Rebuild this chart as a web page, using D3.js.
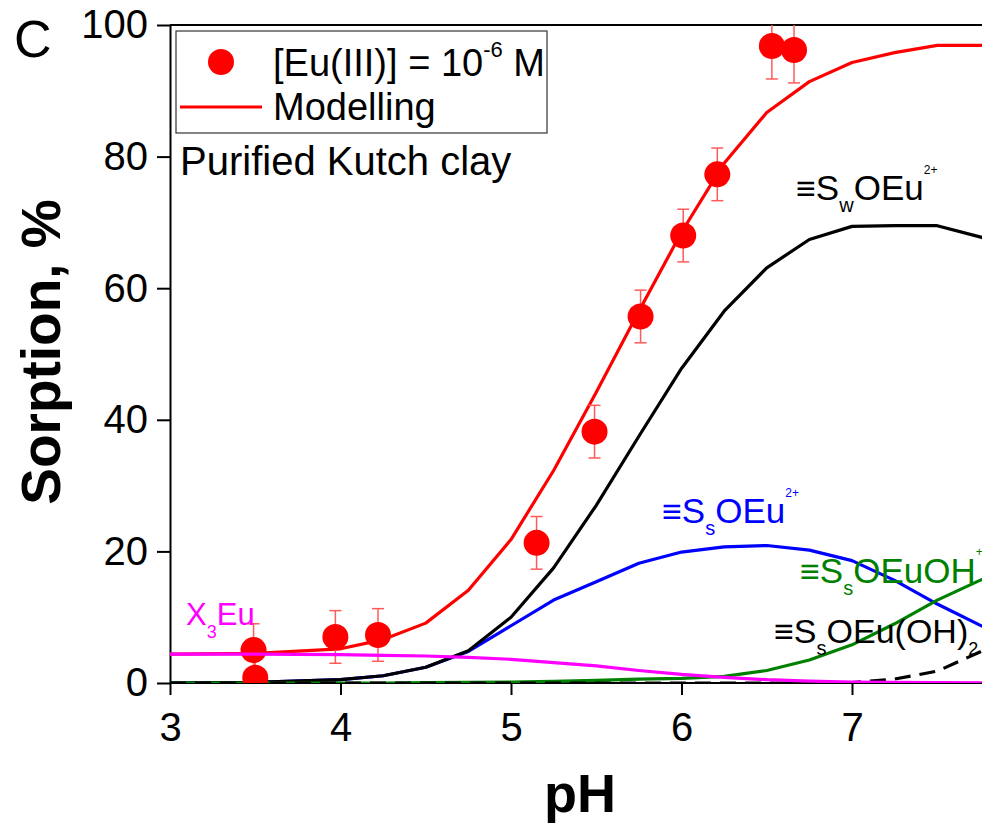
<!DOCTYPE html>
<html>
<head>
<meta charset="utf-8">
<script src="https://cdn.jsdelivr.net/npm/d3@7"></script>
<style>
  html, body { margin: 0; padding: 0; background: #fff; }
  svg { display: block; font-family: Arial, "Liberation Sans", sans-serif; }
</style>
</head>
<body>
<svg id="chart" width="982" height="827"></svg>
<script>
// ---------- data ----------
const pHGrid      = [3, 3.5, 4, 4.25, 4.5, 4.75, 5, 5.25, 5.5, 5.75, 6, 6.25, 6.5, 6.75, 7, 7.25, 7.5, 7.75, 8];
const modelling   = [4.4, 4.5, 5.2, 6.6, 9.1, 14.1, 21.8, 32.3, 44.2, 56.5, 68.5, 79.0, 86.7, 91.4, 94.3, 95.8, 96.9, 96.9, 96.9];
const swOEu       = [0, 0.1, 0.5, 1.1, 2.4, 4.9, 10.0, 17.5, 27.0, 37.5, 47.8, 56.5, 63.1, 67.4, 69.4, 69.5, 69.5, 67.8, 66.0];
const ssOEu       = [0, 0.1, 0.5, 1.1, 2.4, 4.8, 8.7, 12.6, 15.4, 18.2, 19.9, 20.7, 20.9, 20.2, 18.6, 15.6, 12.0, 8.8, 6.0];
const ssOEuOH     = [0, 0, 0, 0, 0.05, 0.1, 0.15, 0.25, 0.4, 0.6, 0.7, 1.0, 1.9, 3.5, 5.8, 9.0, 12.6, 15.6, 18.4];
const ssOEuOH2    = [0, 0, 0, 0, 0, 0, 0, 0, 0, 0, 0, 0, 0, 0, 0.05, 0.6, 1.8, 4.7, 8.5];
const x3Eu        = [4.4, 4.4, 4.3, 4.2, 4.1, 3.9, 3.6, 3.1, 2.6, 1.9, 1.3, 0.85, 0.5, 0.3, 0.15, 0.1, 0.05, 0.02, 0];

const expPH       = [3.49, 3.5, 3.97, 4.22, 5.15, 5.49, 5.76, 6.01, 6.21, 6.53, 6.66];
const expSorption = [5.0, 0.8, 7.0, 7.3, 21.3, 38.2, 55.7, 68.0, 77.3, 96.8, 96.2];
const expError    = [4, 4, 4, 4, 4, 4, 4, 4, 4, 5, 5];

const xMajorTicks = [3, 4, 5, 6, 7];
const yMajorTicks = [0, 20, 40, 60, 80, 100];

// ---------- layout ----------
const svg = d3.select("#chart");
const x = d3.scaleLinear().domain([3, 8]).range([170, 1022.5]);
const y = d3.scaleLinear().domain([0, 100]).range([683, 25]);

svg.append("defs").append("clipPath").attr("id", "plotClip")
  .append("rect").attr("x", 170).attr("y", 25).attr("width", 860).attr("height", 658);

// frame top line
svg.append("line").attr("x1", 170).attr("x2", 1030).attr("y1", y(100)).attr("y2", y(100))
  .attr("stroke", "#000").attr("stroke-width", 2);

// axes
const xMinor = d3.range(3, 8.01, 0.2).map(v => +v.toFixed(1)).filter(v => !xMajorTicks.includes(v));
const yMinor = d3.range(10, 100, 20);

const gx = svg.append("g").attr("transform", `translate(0,${y(0)})`);
gx.call(d3.axisBottom(x).tickValues(xMinor).tickSize(7).tickSizeOuter(0).tickFormat(""));
gx.call(d3.axisBottom(x).tickValues(xMajorTicks).tickSize(12).tickSizeOuter(0).tickPadding(18).tickFormat(d3.format("d")));
gx.selectAll("path").attr("d", `M170,0H1030`);

const gy = svg.append("g").attr("transform", `translate(${x(3)},0)`);
gy.call(d3.axisLeft(y).tickValues(yMinor).tickSize(7).tickSizeOuter(0).tickFormat(""));
gy.call(d3.axisLeft(y).tickValues(yMajorTicks).tickSize(13).tickSizeOuter(0).tickPadding(9).tickFormat(d3.format("d")));

svg.selectAll(".domain").attr("stroke-width", 2);
svg.selectAll(".tick line").attr("stroke-width", 2);
svg.selectAll(".tick text").attr("font-size", 40).attr("font-family", "Arial, 'Liberation Sans', sans-serif").attr("fill", "#000");

// axis titles
svg.append("text").attr("x", 580).attr("y", 812).attr("text-anchor", "middle")
  .attr("font-size", 54).attr("font-weight", "bold").text("pH");
svg.append("text").attr("transform", "translate(60,352) rotate(-90)").attr("text-anchor", "middle")
  .attr("font-size", 55).attr("font-weight", "bold").text("Sorption, %");
svg.append("text").attr("x", 14).attr("y", 57).attr("font-size", 52).text("C");

// ---------- curves ----------
const plot = svg.append("g").attr("clip-path", "url(#plotClip)");
const line = d3.line().x((d, i) => x(pHGrid[i])).y(d => y(d));

function curve(vals, color, dash) {
  plot.append("path").datum(vals).attr("d", line)
    .attr("fill", "none").attr("stroke", color).attr("stroke-width", 3.2)
    .attr("stroke-linejoin", "round")
    .attr("stroke-dasharray", dash || null);
}
curve(modelling, "#ff0000");
curve(ssOEu, "#0000ff");
curve(swOEu, "#000000");
curve(ssOEuOH, "#008000");
curve(ssOEuOH2, "#000000", "16,9");

// error bars
const eb = plot.append("g").attr("stroke", "#ff5a5a").attr("stroke-width", 1.5);
expPH.forEach((p, i) => {
  const cx = x(p), lo = y(expSorption[i] - expError[i]), hi = y(expSorption[i] + expError[i]);
  eb.append("line").attr("x1", cx).attr("x2", cx).attr("y1", lo).attr("y2", hi);
  eb.append("line").attr("x1", cx - 6).attr("x2", cx + 6).attr("y1", lo).attr("y2", lo);
  eb.append("line").attr("x1", cx - 6).attr("x2", cx + 6).attr("y1", hi).attr("y2", hi);
});

// points
plot.selectAll("circle.pt").data(expPH).enter().append("circle")
  .attr("class", "pt").attr("cx", d => x(d)).attr("cy", (d, i) => y(expSorption[i]))
  .attr("r", 13).attr("fill", "#ff0000");

curve(x3Eu, "#ff00ff");

// ---------- legend ----------
svg.append("rect").attr("x", 176).attr("y", 31).attr("width", 371).attr("height", 102)
  .attr("fill", "none").attr("stroke", "#333").attr("stroke-width", 1.2);
svg.append("circle").attr("cx", 221).attr("cy", 62).attr("r", 13).attr("fill", "#ff0000");
svg.append("line").attr("x1", 180).attr("x2", 262).attr("y1", 107).attr("y2", 107)
  .attr("stroke", "#ff0000").attr("stroke-width", 3);
const lt = svg.append("text").attr("x", 273).attr("y", 76).attr("font-size", 38);
lt.append("tspan").text("[Eu(III)] = 10");
lt.append("tspan").attr("font-size", 22).attr("dy", -19).text("-6");
lt.append("tspan").attr("dy", 19).text(" M");
svg.append("text").attr("x", 273).attr("y", 120).attr("font-size", 38).text("Modelling");
svg.append("text").attr("x", 180).attr("y", 175).attr("font-size", 40).text("Purified Kutch clay");

// ---------- species labels ----------
function species(x0, y0, color, parts) {
  const t = svg.append("text").attr("x", x0).attr("y", y0).attr("fill", color);
  let cur = 0;
  parts.forEach(([txt, size, shift]) => {
    t.append("tspan").attr("font-size", size).attr("dy", shift - cur).text(txt);
    cur = shift;
  });
}
species(796, 200, "#000", [["≡", 34, 0], ["S", 35, 0], ["w", 20, 12], ["OEu", 35, 0], ["2+", 12, -26]]);
species(662, 523, "#0000ff", [["≡", 34, 0], ["S", 35, 0], ["s", 20, 12], ["OEu", 35, 0], ["2+", 12, -26]]);
species(800, 583, "#008000", [["≡", 34, 0], ["S", 35, 0], ["s", 20, 12], ["OEuOH", 35, 0], ["+", 12, -27]]);
species(774, 643, "#000", [["≡", 34, 0], ["S", 34, 0], ["s", 20, 12], ["OEu(OH)", 34, 0], ["2", 18, 12]]);
species(186, 625, "#ff00ff", [["X", 31, 0], ["3", 18, 13], ["Eu", 31, 0]]);
</script>
</body>
</html>
